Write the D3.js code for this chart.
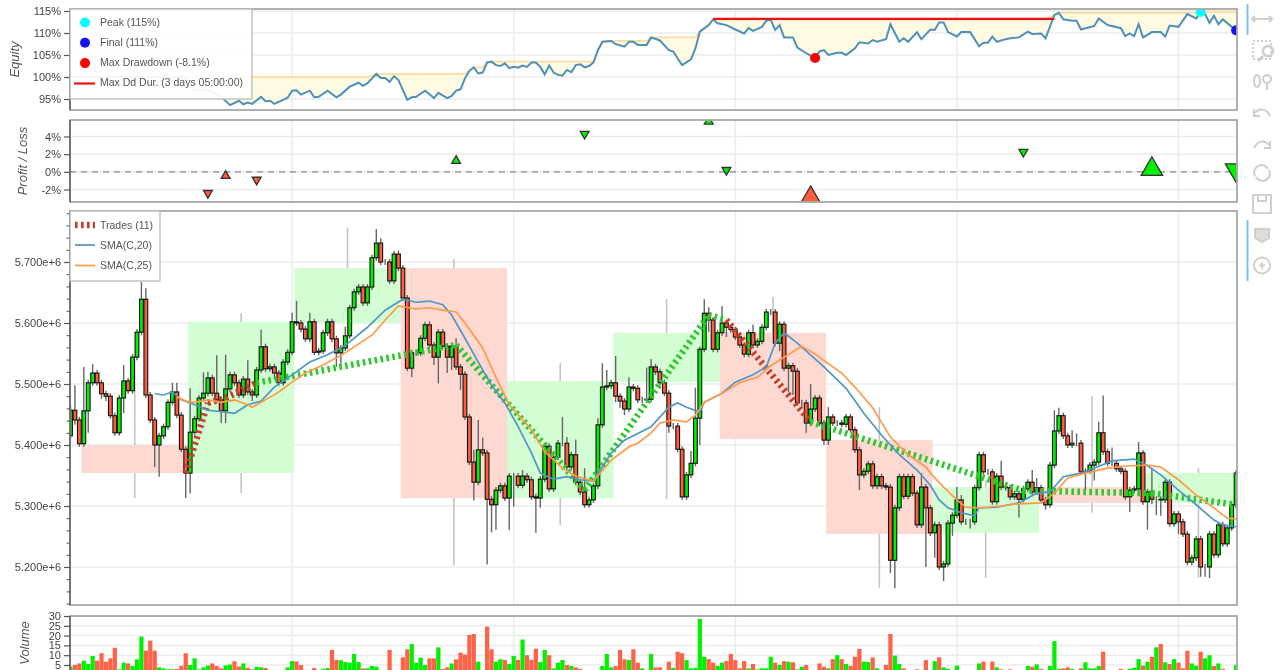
<!DOCTYPE html>
<html lang="en">
<head>
<meta charset="utf-8">
<title>Backtest</title>
<script src="https://cdn.jsdelivr.net/npm/d3@7"></script>
<style>
  html, body { margin: 0; padding: 0; background: #fff; overflow: hidden; }
  svg { display: block; filter: blur(0.6px); font-family: "Liberation Sans", Arial, sans-serif; }
  .tick text { fill: #444; font-size: 11px; }
  .domain { display: none; }
  .legend text { fill: #555; font-size: 10.5px; }
  .ylab { fill: #555; font-size: 13px; font-style: italic; }
</style>
</head>
<body>
<script>
// -- Data -- //
// prices are in thousands

const opens = [5415,5457,5441,5402,5456,5502,5518,5502,5484,5480,
  5448,5420,5477,5505,5489,5544,5585,5639,5482,5441,
  5400,5415,5430,5470,5487,5449,5393,5354,5421,5443,
  5477,5485,5510,5485,5474,5456,5492,5515,5502,5482,
  5508,5487,5482,5523,5561,5525,5528,5518,5502,5536,
  5552,5602,5600,5590,5574,5602,5552,5554,5584,5602,
  5574,5551,5559,5579,5625,5651,5659,5633,5659,5707,
  5731,5700,5700,5669,5713,5690,5641,5526,5551,5551,
  5575,5597,5564,5544,5585,5562,5544,5562,5528,5516,
  5446,5372,5339,5392,5387,5311,5302,5326,5333,5313,
  5349,5349,5334,5349,5343,5315,5313,5344,5398,5328,
  5380,5403,5403,5364,5384,5339,5323,5302,5310,5333,
  5433,5495,5497,5502,5480,5472,5459,5495,5493,5474,
  5474,5475,5528,5520,5502,5485,5431,5431,5393,5315,
  5351,5370,5444,5557,5616,5605,5557,5584,5600,5593,
  5589,5577,5564,5549,5584,5564,5570,5593,5618,5618,
  5567,5598,5526,5530,5521,5469,5469,5436,5459,5477,
  5436,5408,5446,5436,5436,5434,5446,5425,5392,5351,
  5357,5369,5333,5348,5333,5331,5211,5297,5348,5316,
  5348,5321,5269,5331,5297,5256,5269,5200,5205,5272,
  5285,5310,5274,5274,5274,5330,5384,5356,5356,5307,
  5349,5331,5330,5315,5320,5311,5328,5339,5323,5330,
  5310,5302,5367,5423,5448,5415,5400,5403,5403,5356,
  5357,5367,5372,5420,5389,5370,5370,5361,5357,5315,
  5326,5328,5387,5307,5323,5311,5311,5310,5339,5271,
  5287,5274,5254,5208,5215,5246,5200,5200,5254,5220,
  5269,5238,5264,5302];

const closes = [5457,5441,5402,5456,5502,5518,5502,5484,5480,5448,
  5420,5477,5505,5489,5544,5585,5639,5482,5441,5400,
  5415,5430,5470,5487,5449,5393,5354,5421,5443,5477,
  5485,5510,5485,5474,5456,5492,5515,5502,5482,5508,
  5487,5482,5523,5561,5525,5528,5518,5502,5536,5552,
  5602,5600,5590,5574,5602,5552,5554,5584,5602,5574,
  5551,5559,5579,5625,5651,5659,5633,5659,5707,5731,
  5700,5700,5669,5713,5690,5641,5526,5551,5551,5575,
  5597,5564,5544,5585,5562,5544,5562,5528,5516,5446,
  5372,5339,5392,5387,5311,5302,5326,5333,5313,5349,
  5349,5334,5349,5343,5315,5313,5344,5398,5328,5380,
  5403,5403,5364,5384,5339,5323,5302,5310,5333,5433,
  5495,5497,5502,5480,5472,5459,5495,5493,5474,5474,
  5475,5528,5520,5502,5485,5431,5431,5393,5315,5351,
  5370,5444,5557,5616,5605,5557,5584,5600,5593,5589,
  5577,5564,5549,5584,5564,5570,5593,5618,5618,5567,
  5598,5526,5530,5521,5469,5469,5436,5459,5477,5436,
  5408,5446,5436,5436,5434,5446,5425,5392,5351,5357,
  5369,5333,5348,5333,5331,5211,5297,5348,5316,5348,
  5321,5269,5331,5297,5256,5269,5200,5205,5272,5285,
  5310,5274,5274,5274,5330,5384,5356,5356,5307,5349,
  5331,5330,5315,5320,5311,5328,5339,5323,5330,5310,
  5302,5367,5423,5448,5415,5400,5403,5403,5356,5357,
  5367,5372,5420,5389,5370,5370,5361,5357,5315,5326,
  5328,5387,5307,5323,5311,5311,5310,5339,5271,5287,
  5274,5254,5208,5215,5246,5200,5200,5254,5220,5269,
  5238,5264,5302,5354];

// wick length above / below the candle body
const upperWicks = [8,41,5,72,5,15,5,5,5,5,
  5,5,26,5,5,5,28,18,5,5,
  5,5,5,15,15,5,5,72,5,5,
  34,10,5,62,5,56,5,5,5,5,
  31,5,5,28,5,5,5,5,5,5,
  15,34,5,5,15,5,5,5,5,5,
  5,5,15,5,5,5,5,5,5,23,
  8,5,5,5,6,5,5,5,5,5,
  5,6,5,5,5,5,5,13,5,5,
  5,20,49,20,5,5,5,5,5,5,
  5,5,10,5,5,5,5,5,5,5,
  5,43,10,5,25,5,39,5,5,11,
  39,26,5,44,5,5,16,5,5,5,
  52,13,5,5,5,5,5,5,5,5,
  20,50,5,23,10,5,5,28,5,5,
  5,5,5,5,13,5,5,5,5,5,
  5,5,5,5,5,5,5,41,5,5,
  5,16,5,5,5,5,5,5,5,5,
  5,5,5,5,5,5,5,5,5,5,
  5,5,23,5,5,5,5,5,5,5,
  21,8,5,5,5,5,5,5,5,5,
  25,5,5,5,5,5,5,20,16,5,
  5,5,34,13,5,5,21,16,5,5,
  5,5,18,61,5,26,5,5,5,5,
  5,18,5,5,39,5,5,5,5,5,
  5,5,5,5,5,5,5,5,5,5,
  5,5,5,5];

const lowerWicks = [5,8,5,5,36,5,5,8,8,5,
  5,5,25,5,5,5,5,5,5,36,
  52,5,5,5,5,5,41,33,5,5,
  5,5,5,5,20,20,5,5,5,5,
  5,10,5,5,5,5,10,5,5,5,
  5,5,5,5,5,5,5,5,5,5,
  23,25,5,5,5,5,5,5,5,5,
  5,5,5,5,5,5,5,15,5,5,
  5,5,13,43,5,26,21,5,26,5,
  5,30,5,5,107,45,41,5,5,52,
  50,5,5,5,5,57,16,5,5,5,
  5,5,5,5,5,5,5,5,5,5,
  5,5,5,10,11,10,5,5,5,5,
  5,5,5,5,5,11,5,5,5,5,
  5,5,44,5,20,5,5,5,16,5,
  5,5,5,5,5,5,5,5,5,5,
  13,5,39,39,5,5,16,5,5,5,
  8,8,5,5,5,5,5,5,25,5,
  5,5,5,5,5,21,46,5,5,5,
  5,5,5,97,5,41,5,23,5,21,
  5,5,5,11,5,5,5,5,5,5,
  5,5,5,5,30,5,5,5,5,5,
  8,5,5,5,5,5,5,5,5,30,
  5,25,5,5,5,5,5,5,5,25,
  5,5,5,46,8,26,26,5,5,5,
  20,5,5,5,5,16,16,18,5,5,
  5,5,5,5];

const volumes = [4.2,5,5.8,7.2,5.5,9.6,7.2,11,6.7,8.4,
  13.8,2.8,6.2,5.8,4.5,7.9,19.5,12.3,17.4,12.3,
  3.8,3.3,2.8,2.8,3,4.5,11,5,8.4,2.8,
  3.8,4.7,5.8,4.5,3.3,4.8,5.2,6.9,4.2,5.8,
  3.6,2.8,4,3.8,3.5,2.5,2.5,2.5,2,3.8,
  7,6.8,5,2.5,2.5,3.5,2.5,3,3.5,12.7,
  7.6,7.4,6.5,6.2,10.6,6.5,3.3,3.3,4.5,4.2,
  2.5,2.5,12.7,2.5,2.5,8.9,13,15.7,6.2,8.7,
  5,8.4,8.4,14,3,3.8,5.8,7.9,11.3,10.3,
  20.3,20.8,6.7,2.5,24.6,13,6.7,7.9,7.6,5.5,
  9.6,7.6,18,10,7.6,13.3,6.5,12.7,10,3.3,
  6.2,7.6,5,4.5,3.8,3,2.2,2.2,2.2,2.2,
  4.5,10.6,3.8,4.5,12.7,7.9,7.6,13,6.2,3.3,
  2.5,10.6,3.8,3.8,2.5,6.7,3.6,11.8,11,7.5,
  3.3,3.6,28.5,9.2,8,6.2,4.5,6.2,7,10.6,
  7.5,3.3,7,3.3,5.5,2.8,3.3,3.3,9.2,6.2,
  5,7,6.7,6.4,2.8,4.1,5,2,2,5.8,
  4.1,3.3,8,10,8,5.5,4.5,9.2,13.2,6.7,
  6.5,8.9,3.3,2,5,20.8,9.8,5.5,3.3,2,
  2,2.8,2.5,7.5,2,7,8.9,3.8,3,2,
  4.7,2,2,2,2,5.8,6.7,2,6.7,3.8,
  2.8,2,2.8,2,2,2,4.5,4.1,5.3,3,
  2,4.5,17.2,3,3.3,3.8,3,2,3.3,6.4,
  3.3,3.3,4.5,11.8,2,2,2,3,2,3,
  3.6,8,4.7,6.7,9.2,14,15.7,6.4,5.5,8,
  6.2,3.3,12.3,5.8,4.7,11.8,8.4,10,4.5,5.8,
  3,2,2,5];

// 24 bar periods behind the candles
const periodBars = [14,38,62,86,110,134,158,182,206,230,254];
const periodOpens = [5400,5354,5600,5690,5313,5503,5584,5408,5256,5331,5305];
const periodCloses = [5354,5602,5690,5313,5505,5584,5410,5254,5331,5305,5354];
const periodHighs = [5539,5616,5756,5705,5534,5639,5643,5462,5343,5480,5362];
const periodLows = [5313,5321,5556,5203,5269,5311,5556,5166,5182,5289,5182];

const sma20Bars = [19,21,23,25,27,28,31,35,37,40,43,46,50,54,58,61,63,67,71,75,78,81,84,86,89,92,95,98,
  101,104,106,109,112,115,118,122,125,131,135,137,139,142,143,147,150,154,157,159,161,164,170,175,179,
  183,187,191,194,196,198,201,204,205,209,214,218,221,224,228,231,235,240,243,246,250,254,258,260,263];
const sma20Values = [5484,5482,5487,5474,5469,5466,5457,5454,5452,5466,5472,5495,5515,5536,5548,5559,5569,5593,5621,5639,5634,5636,5630,5613,5575,5536,5498,5469,
  5430,5387,5354,5344,5348,5343,5341,5387,5408,5430,5462,5469,5462,5454,5470,5485,5503,5515,5528,5567,5584,5567,5528,5493,5452,
  5416,5384,5359,5334,5310,5297,5289,5284,5297,5298,5305,5321,5323,5348,5354,5362,5374,5377,5366,5351,5326,5302,5277,5269,5266];

const sma25Bars = [24,26,28,31,34,37,40,41,44,47,50,53,57,62,63,68,71,74,78,81,85,87,89,93,96,99,104,107,111,114,118,122,126,
  128,131,133,136,139,141,143,147,151,155,158,161,165,168,174,177,181,185,189,193,
  194,197,200,202,205,210,213,219,222,225,229,234,239,243,246,250,254,258,261,263];
const sma25Values = [5479,5472,5470,5474,5470,5474,5466,5462,5474,5487,5503,5518,5531,5551,5556,5580,5605,5628,5623,5625,5620,5618,5600,5559,5511,5466,5425,5389,5362,5349,5341,5375,5397,
  5403,5420,5436,5441,5438,5449,5470,5485,5502,5511,5530,5544,5562,5549,5518,5495,5461,5413,5384,5364,
  5354,5331,5310,5298,5297,5300,5303,5305,5321,5346,5354,5362,5366,5367,5364,5343,5318,5297,5280,5279];

const tradeEntryBars = [26,31,35,42,87,116,144,148,167,215,244];
const tradeExitBars = [31,35,42,87,116,144,148,167,215,244,263];
const tradeEntryPrices = [5354,5469,5477,5502,5564,5326,5613,5605,5438,5325,5321];
const tradeExitPrices = [5469,5477,5502,5564,5326,5613,5605,5438,5325,5321,5302];
const tradePnl = [-2.4,-0.45,-0.9,1.25,4.3,5.7,0.2,-3,2.25,0.3,0.2];
const tradeLong = [0,1,0,1,0,1,0,1,0,1,0];
const tradeSizes = [1,1,1,1,1,1,1,3,1,3,3];

const equityBars = [0,26,28,31,34,36,38,39,40,41,43,44,45,46,49,50,51,52,54,55,56,58,60,61,63,65,66,67,69,70,71,72,73,74,75,76,77,78,80,81,82,83,85,86,87,88,89,90,91,92,93,94,95,96,97,98,99,100,101,102,103,104,105,106,107,108,109,110,111,112,113,114,115,116,117,118,119,120,122,123,125,126,127,
  128,130,131,133,135,136,137,138,140,141,142,144,145,146,148,150,152,153,154,156,157,158,159,160,161,163,164,166,168,169,170,171,173,174,175,177,178,180,181,182,184,185,187,188,189,191,192,194,195,196,197,198,200,201,203,205,206,207,208,209,211,212,214,216,217,219,220,222,223,224,226,227,228,231,232,234,237,238,239,240,241,242,244,246,247,248,250,252,254,255,256,257,258,259,260,263];
const equityValues = [100,100,97,97,95.5,93.6,94.6,93.8,94.2,93.9,95.5,94.5,94.6,93.9,95.3,96.9,97,96,96.9,95.4,95.5,96.9,95.4,96,97.8,98.7,98,98.6,100.7,99.8,99.8,98.9,100.2,99.3,97,94.8,95.4,95.5,96.9,96.1,95.2,96.4,95.2,95.7,96.9,97.2,99.7,101.4,102.2,100.8,101,103.3,103.5,102.7,102.5,103.1,102,102.3,102.1,102.6,102.3,103.3,103.3,102.3,100.6,102.6,101,100.5,100.3,101.6,101.1,102.7,102.9,102.2,102.5,103.3,106.1,108,108.2,107.5,106.9,108,108,
  107.3,107.3,109,108.3,106.1,105.8,104.2,102.7,104,106.5,110.3,111.8,113.1,112.2,111.8,110.8,109.9,111.1,110.5,111.4,112.8,113,110.7,111.8,109,109,106.7,105.4,104.3,105.8,106.1,105,105.5,105.5,105,106.5,107.9,107.6,108.4,108,108.6,112,108,108.8,108,110.2,108.6,110.8,110.7,112.4,112.4,110.2,109.2,110.2,110.2,107,107.8,107.8,109.2,108,108.6,108.8,109,110.3,109.8,109.9,108.8,114.1,114.6,113.1,112.8,112.8,110.8,111.6,113.3,111.8,111.1,109.3,109.9,109.3,112,109,110.2,110.2,109.2,111.7,111.4,114.3,113.3,114.8,114.3,112.3,113.9,112,113.1,110.6];

const equityMarkBars = [255,263,168];
const equityMarkValues = [114.8,110.6,104.3];
const equityMarkColors = ["cyan","#1414f0","red"];
const ddDurBars = [145,222];
const ddDurValue = 113.2;

const equityTicks = [95,100,105,110,115];
const pnlTicks = [-2,0,2,4];
const priceTicks = [5200,5300,5400,5500,5600,5700];
const volumeTicks = [5,10,15,20,25,30];
const barTicks = [50,100,150,200,250];

const equityLegend = ["Peak (115%)","Final (111%)","Max Drawdown (-8.1%)","Max Dd Dur. (3 days 05:00:00)"];
const priceLegend = ["Trades (11)","SMA(C,20)","SMA(C,25)"];

// -- Setting -- //

const BULL = "#00f000", BEAR = "#ff5c3c";
const left = 70, right = 1237;

const svg = d3.select("body").append("svg").attr("width", 1280).attr("height", 670);

const x = d3.scaleLinear().domain([0, 263.2]).range([70.5, right]);
const yEq = d3.scaleLinear().domain([95, 115]).range([99, 11]);
const yPnl = d3.scaleLinear().domain([-2, 4]).range([189.5, 136.5]);
const yPrice = d3.scaleLinear().domain([5200, 5700]).range([567, 262]);
const yVol = d3.scaleLinear().domain([5, 30]).range([665, 616]);

function panel(id, top, bottom) {
    svg.append("clipPath").attr("id", id).append("rect")
        .attr("x", left).attr("y", top).attr("width", right - left).attr("height", bottom - top);
    let g = svg.append("g");
    g.append("g").selectAll("line").data(barTicks).join("line")
        .attr("x1", d => x(d)).attr("x2", d => x(d))
        .attr("y1", top).attr("y2", bottom)
        .attr("stroke", "#ececec").attr("stroke-width", 1.5);
    return g;
}

function hGrid(g, scale, ticks) {
    g.append("g").selectAll("line").data(ticks).join("line")
        .attr("x1", left).attr("x2", right)
        .attr("y1", d => scale(d)).attr("y2", d => scale(d))
        .attr("stroke", "#ececec").attr("stroke-width", 1.5);
}

function frame(top, bottom, scale, ticks, fmt, label, labelX) {
    svg.append("rect").attr("x", left).attr("y", top)
        .attr("width", right - left).attr("height", bottom - top)
        .attr("fill", "none").attr("stroke", "#a8a8a8").attr("stroke-width", 1.8);
    svg.append("line").attr("x1", left).attr("x2", left).attr("y1", top).attr("y2", bottom)
        .attr("stroke", "#666").attr("stroke-width", 1.6);
    svg.append("g").attr("transform", `translate(${left},0)`)
        .call(d3.axisLeft(scale).tickValues(ticks).tickFormat(fmt).tickSize(6).tickPadding(3))
        .call(a => a.selectAll("line").attr("stroke", "#555").attr("stroke-width", 1.2));
    svg.append("text").attr("class", "ylab")
        .attr("transform", `translate(${labelX},${(top + Math.min(bottom, 670)) / 2}) rotate(-90)`)
        .attr("text-anchor", "middle").text(label);
}

// -- Equity panel -- //

const gEq = panel("clipEq", 9, 110);
hGrid(gEq, yEq, equityTicks);

const eqPoints = equityBars.map((b, i) => ({bar: b, value: equityValues[i]}));
const eqPeaks = equityValues.map((v, i) => d3.max(equityValues.slice(0, i + 1)));
const plotEq = gEq.append("g").attr("clip-path", "url(#clipEq)");

plotEq.append("path").datum(eqPoints)
    .attr("fill", "#fffbe3")
    .attr("d", d3.area().x(d => x(d.bar)).y0((d, i) => yEq(eqPeaks[i])).y1(d => yEq(d.value)));
plotEq.append("path").datum(eqPoints)
    .attr("fill", "none").attr("stroke", "#ffdd9e").attr("stroke-width", 1.8)
    .attr("d", d3.line().x(d => x(d.bar)).y((d, i) => yEq(eqPeaks[i])));
plotEq.append("path").datum(eqPoints)
    .attr("fill", "none").attr("stroke", "#4e91b8").attr("stroke-width", 2)
    .attr("d", d3.line().x(d => x(d.bar)).y(d => yEq(d.value)));
plotEq.append("line")
    .attr("x1", x(ddDurBars[0])).attr("x2", x(ddDurBars[1]))
    .attr("y1", yEq(ddDurValue)).attr("y2", yEq(ddDurValue))
    .attr("stroke", "#f01010").attr("stroke-width", 2.2);
plotEq.selectAll("circle").data(equityMarkBars).join("circle")
    .attr("cx", d => x(d)).attr("cy", (d, i) => yEq(equityMarkValues[i]))
    .attr("r", 5).attr("fill", (d, i) => equityMarkColors[i]);

// -- Profit / Loss panel -- //

const gPnl = panel("clipPnl", 120, 202);
hGrid(gPnl, yPnl, pnlTicks);
gPnl.append("line").attr("x1", left).attr("x2", right)
    .attr("y1", yPnl(0)).attr("y2", yPnl(0))
    .attr("stroke", "#888").attr("stroke-width", 1.3).attr("stroke-dasharray", "6,5");

const triangle = d3.symbol().type(d3.symbolTriangle);
gPnl.append("g").attr("clip-path", "url(#clipPnl)")
    .selectAll("path").data(tradePnl).join("path")
    .attr("d", (d, i) => triangle.size(tradeSizes[i] === 3 ? 200 : 34)())
    .attr("transform", (d, i) => `translate(${x(tradeExitBars[i])},${yPnl(d)}) rotate(${tradeLong[i] ? 0 : 180})`)
    .attr("fill", d => d >= 0 ? BULL : BEAR)
    .attr("stroke", "#333").attr("stroke-width", 1.3);

// -- Price panel -- //

const gPrice = panel("clipPrice", 211, 605);
hGrid(gPrice, yPrice, priceTicks);
const plot = gPrice.append("g").attr("clip-path", "url(#clipPrice)");

plot.append("g").selectAll("line").data(periodBars).join("line")
    .attr("x1", d => x(d + 0.5)).attr("x2", d => x(d + 0.5))
    .attr("y1", (d, i) => yPrice(periodHighs[i])).attr("y2", (d, i) => yPrice(periodLows[i]))
    .attr("stroke", "#c4c4c4").attr("stroke-width", 1.6);

plot.append("g").selectAll("rect").data(periodBars).join("rect")
    .attr("x", d => x(d - 11.5))
    .attr("width", d => x(d + 12.5) - x(d - 11.5))
    .attr("y", (d, i) => yPrice(Math.max(periodOpens[i], periodCloses[i])))
    .attr("height", (d, i) => Math.abs(yPrice(periodOpens[i]) - yPrice(periodCloses[i])))
    .attr("fill", (d, i) => periodCloses[i] >= periodOpens[i] ? "#d3fdd3" : "#fdd9d1");

const candles = closes.map((c, i) => i);
plot.append("g").selectAll("line").data(candles).join("line")
    .attr("x1", d => x(d)).attr("x2", d => x(d))
    .attr("y1", d => yPrice(Math.max(opens[d], closes[d]) + upperWicks[d]))
    .attr("y2", d => yPrice(Math.min(opens[d], closes[d]) - lowerWicks[d]))
    .attr("stroke", "#666").attr("stroke-width", 1.4);

const barW = x(0.85) - x(0);
plot.append("g").selectAll("rect").data(candles).join("rect")
    .attr("x", d => x(d) - barW / 2).attr("width", barW)
    .attr("y", d => yPrice(Math.max(opens[d], closes[d])))
    .attr("height", d => Math.abs(yPrice(opens[d]) - yPrice(closes[d])))
    .attr("fill", d => closes[d] >= opens[d] ? BULL : BEAR)
    .attr("stroke", "#111").attr("stroke-width", 1.1);

plot.append("g").selectAll("line").data(tradeEntryBars).join("line")
    .attr("x1", d => x(d)).attr("x2", (d, i) => x(tradeExitBars[i]))
    .attr("y1", (d, i) => yPrice(tradeEntryPrices[i])).attr("y2", (d, i) => yPrice(tradeExitPrices[i]))
    .attr("stroke", (d, i) => tradePnl[i] >= 0 ? "#2ec82e" : "#c23f2c")
    .attr("stroke-width", 6.5).attr("stroke-dasharray", "2.6,3.4");

const smaLine = d3.line().x(d => x(d[0])).y(d => yPrice(d[1]));
plot.append("path").datum(d3.zip(sma20Bars, sma20Values))
    .attr("fill", "none").attr("stroke", "#4f97c6").attr("stroke-width", 1.7).attr("d", smaLine);
plot.append("path").datum(d3.zip(sma25Bars, sma25Values))
    .attr("fill", "none").attr("stroke", "#ff9a4a").attr("stroke-width", 1.7).attr("d", smaLine);

// -- Volume panel -- //

const gVol = panel("clipVol", 616, 680);
hGrid(gVol, yVol, volumeTicks);
const volW = x(0.95) - x(0);
gVol.append("g").attr("clip-path", "url(#clipVol)")
    .selectAll("rect").data(candles).join("rect")
    .attr("x", d => x(d) - volW / 2).attr("width", volW)
    .attr("y", d => yVol(volumes[d]))
    .attr("height", d => 680 - yVol(volumes[d]))
    .attr("fill", d => closes[d] >= opens[d] ? "#00f000" : "#ff6347");

// -- Axes and frames -- //

frame(9, 110, yEq, equityTicks, d => d + "%", "Equity", 19);
frame(120, 202, yPnl, pnlTicks, d => d + "%", "Profit / Loss", 27);
frame(211, 605, yPrice, priceTicks, d => (d * 1000).toExponential(3), "", 0);
frame(616, 680, yVol, volumeTicks, d => d, "Volume", 29);

svg.append("g").attr("transform", `translate(${left},0)`)
    .call(d3.axisLeft(yPrice).tickValues(d3.range(5140, 5790, 20).filter(d => d % 100 !== 0)).tickFormat("").tickSize(3.5))
    .call(a => a.selectAll("line").attr("stroke", "#555").attr("stroke-width", 1));

// -- Legends -- //

function legendBox(w, h, top) {
    let g = svg.append("g").attr("class", "legend");
    g.append("rect").attr("x", left).attr("y", top).attr("width", w).attr("height", h)
        .attr("fill", "#fff").attr("fill-opacity", 0.93).attr("stroke", "#bbb").attr("stroke-width", 1.3);
    return g;
}

const legEq = legendBox(182, 90, 9);
legEq.selectAll("text").data(equityLegend).join("text")
    .attr("x", 100).attr("y", (d, i) => 25.5 + i * 20.3).text(d => d);
legEq.selectAll("circle").data(equityMarkColors).join("circle")
    .attr("cx", 85).attr("cy", (d, i) => 22.5 + i * 20.3).attr("r", 5).attr("fill", d => d);
legEq.append("line").attr("x1", 74).attr("x2", 95).attr("y1", 83.5).attr("y2", 83.5)
    .attr("stroke", "#f01010").attr("stroke-width", 2.2);

const legPrice = legendBox(90, 70, 211);
legPrice.selectAll("text").data(priceLegend).join("text")
    .attr("x", 100).attr("y", (d, i) => 228.5 + i * 20.3).text(d => d);
legPrice.append("line").attr("x1", 75).attr("x2", 95).attr("y1", 225).attr("y2", 225)
    .attr("stroke", "#c23f2c").attr("stroke-width", 6.5).attr("stroke-dasharray", "2.6,3.4");
legPrice.append("line").attr("x1", 75).attr("x2", 95).attr("y1", 245).attr("y2", 245)
    .attr("stroke", "#4f97c6").attr("stroke-width", 1.7);
legPrice.append("line").attr("x1", 75).attr("x2", 95).attr("y1", 265.5).attr("y2", 265.5)
    .attr("stroke", "#ff9a4a").attr("stroke-width", 1.7);

// -- Toolbar -- //

const tools = svg.append("g").attr("fill", "none").attr("stroke", "#cfcfcf").attr("stroke-width", 2);
const icon = (cy, d) => tools.append("path").attr("transform", `translate(1262,${cy})`).attr("d", d);
icon(19, "M-10,0H10M-7,-3L-10,0L-7,3M7,-3L10,0L7,3");
icon(50, "M-9,-9H9V9H-9Z").attr("stroke-dasharray", "2,2");
icon(49, "M6,-3a5,5 0 1 0 0.01,0M1,7L-4,12").attr("stroke-width", 2.5);
icon(81, "M-5,-6a3,6 0 1 0 0.01,0M5,-6a4,4 0 1 0 0.01,0M5,2V9");
icon(113, "M8,3C4,-5 -3,-5 -7,0M-8,-4V3H-2");
icon(145, "M-8,3C-4,-5 3,-5 7,0M8,-4V3H2");
icon(173, "M-7,3A7,7 0 0 1 6,-4M7,-3A7,7 0 0 1 -6,4");
icon(204, "M-9,-9H9V9H-9ZM-4,-9V-3H4V-9");
tools.append("path").attr("transform", "translate(1262,235)").attr("d", "M-7,-6H7V3L0,7L-7,3Z").attr("fill", "#ddd");
tools.append("circle").attr("cx", 1262).attr("cy", 265.5).attr("r", 8);
icon(265.5, "M-3,0H3M0,-3V3");
tools.append("line").attr("x1", 1247.5).attr("x2", 1247.5).attr("y1", 4).attr("y2", 35)
    .attr("stroke", "#7cc4e8");
tools.append("line").attr("x1", 1247.5).attr("x2", 1247.5).attr("y1", 220).attr("y2", 281)
    .attr("stroke", "#7cc4e8");
</script>
</body>
</html>
